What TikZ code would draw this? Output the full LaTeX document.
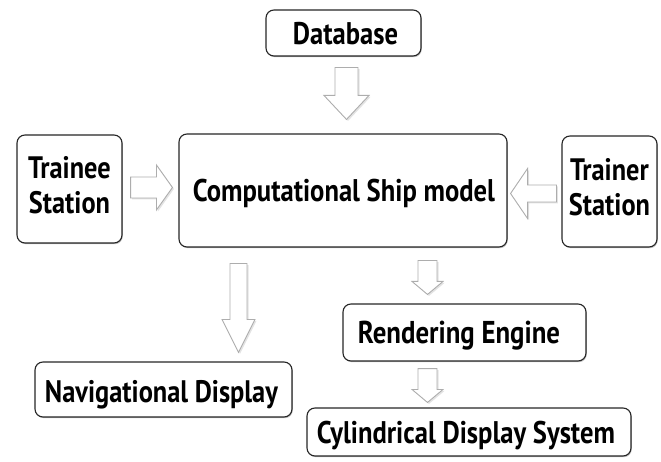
\documentclass[tikz,border=0pt]{standalone}
\usepackage{fontspec}
\setmainfont{PT Sans}[FakeStretch=0.85]
\usetikzlibrary{calc,shadows}
\newcommand\vblock[5]{\draw[blockarr] let \p1=(#1), \p2=(#2) in
  ({\x1-#3pt},\y1) -- ({\x1+#3pt},\y1) -- ({\x1+#3pt},{\y2+#5pt}) -- ({\x1+#4pt},{\y2+#5pt})
  -- (\x1,\y2) -- ({\x1-#4pt},{\y2+#5pt}) -- ({\x1-#3pt},{\y2+#5pt}) -- cycle;}
\newcommand\hblock[6]{\draw[blockarr] let \p1=(#1), \p2=(#2) in
  (\x1,{\y1+#3pt}) -- ({\x2-#6*#5pt},{\y1+#3pt}) -- ({\x2-#6*#5pt},{\y1+#4pt}) -- (\x2,\y1)
  -- ({\x2-#6*#5pt},{\y1-#4pt}) -- ({\x2-#6*#5pt},{\y1-#3pt}) -- (\x1,{\y1-#3pt}) -- cycle;}
\newcommand\fitw[3]{\hspace*{#3pt}\resizebox{#1pt}{!}{#2}\hspace*{-#3pt}}
\begin{document}
\begin{tikzpicture}[x=1pt,y=-1pt,
  box/.style={draw=black!85, line width=1.1pt, rounded corners=8pt, fill=white,
    inner sep=0pt, align=center,
    drop shadow={shadow xshift=0.8pt, shadow yshift=-1.2pt, opacity=0.4, fill=black!60}},
  blockarr/.style={draw=black!32, line width=0.9pt, fill=white,
    drop shadow={shadow xshift=1.5pt, shadow yshift=-1.5pt, opacity=0.22, fill=black!50}},
  one/.style={text depth=0pt, font=\bfseries},
  two/.style={font=\bfseries\fontsize{31}{35}\selectfont, text depth=9pt}]
\useasboundingbox (0,0) rectangle (661,462);
\node[box, one, minimum width=155pt, minimum height=46pt] (db) at (343.5,33) {\fitw{105}{Database}{2}};
\node[box, two, minimum width=105pt, minimum height=108pt] (trainee) at (69.5,189) {Trainee\\Station};
\node[box, one, minimum width=328pt, minimum height=113pt] (csm) at (343,190.5) {\fitw{302}{Computational Ship model}{1}};
\node[box, two, minimum width=95pt, minimum height=111pt] (trainer) at (609.5,191.5) {Trainer\\Station};
\node[box, one, minimum width=257pt, minimum height=55pt] (nav) at (163.5,389.5) {\raisebox{-3pt}{\fitw{233}{Navigational Display}{-2}}};
\node[box, one, minimum width=243pt, minimum height=57pt] (rend) at (464.5,332.5) {\fitw{202}{Rendering Engine}{-5.5}};
\node[box, one, minimum width=324pt, minimum height=48pt] (cyl) at (469,432) {\raisebox{-1.5pt}{\fitw{298}{Cylindrical Display System}{-3}}};
\coordinate (a1s) at ($(db.south)+(3,11)$);
\coordinate (a1e) at ($(csm.north)+(3,-14)$);
\coordinate (a2s) at ($(trainee.east)+(8,-1.5)$);
\coordinate (a2e) at ($(csm.west)+(-6,0)$);
\coordinate (a3s) at ($(trainer.west)+(-5,2)$);
\coordinate (a3e) at ($(csm.east)+(3,0)$);
\coordinate (a4s) at ($(csm.south)+(-104.5,16)$);
\coordinate (a4e) at ($(nav.north)+(75,-9)$);
\coordinate (a5s) at ($(csm.south)+(84.5,13)$);
\coordinate (a5e) at ($(rend.north)+(-37,-9)$);
\coordinate (a6s) at ($(rend.south)+(-37,7)$);
\coordinate (a6e) at ($(cyl.north)+(-41.5,-5)$);
\vblock{a1s}{a1e}{11.5}{22.5}{24}
\hblock{a2s}{a2e}{10.5}{22.5}{16}{1}
\hblock{a3s}{a3e}{8.5}{25}{17}{-1}
\vblock{a4s}{a4e}{8.5}{16.5}{33}
\vblock{a5s}{a5e}{9.5}{15.5}{13}
\vblock{a6s}{a6e}{9.5}{15.5}{13}
\end{tikzpicture}
\end{document}
